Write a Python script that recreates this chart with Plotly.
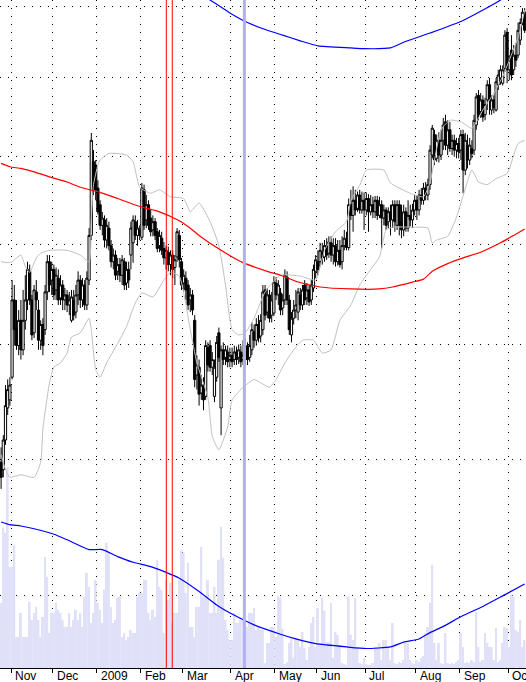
import math
import plotly.graph_objects as go

# ---------------- data (price bars, one per trading day) ----------------
opens = [
    5.98, 5.92, 6.16, 6.43, 6.50, 6.70, 7.43, 7.16, 6.99, 7.23,
    6.95, 7.23, 7.43, 7.72, 7.43, 7.11, 7.51, 7.33, 7.04, 7.19,
    7.14, 7.51, 7.82, 7.63, 7.74, 7.53, 7.65, 7.45, 7.58, 7.43,
    7.48, 7.38, 7.23, 7.43, 7.31, 7.48, 7.63, 7.43, 7.58, 7.38,
    7.63, 8.10, 8.94, 8.90, 8.63, 8.44, 8.21, 8.27, 8.05, 8.18,
    7.99, 7.82, 7.89, 7.72, 7.79, 7.68, 7.82, 7.60, 7.74, 7.89,
    8.02, 8.25, 8.10, 8.16, 8.08, 8.61, 8.27, 8.44, 8.29, 8.16,
    8.25, 8.14, 7.99, 8.07, 7.96, 7.86, 7.92, 7.79, 7.89, 7.76,
    7.87, 8.10, 7.82, 7.60, 7.65, 7.58, 7.43, 7.48, 7.23, 6.72,
    6.79, 6.56, 6.63, 6.53, 6.97, 6.99, 6.79, 6.53, 6.70, 7.11,
    6.43, 6.95, 6.88, 6.93, 6.86, 6.90, 6.86, 6.93, 6.88, 6.93,
    6.86, 6.86, 6.97, 6.88, 6.95, 7.12, 7.04, 7.19, 7.08, 7.14,
    7.53, 7.31, 7.48, 7.28, 7.30, 7.60, 7.48, 7.50, 7.35, 7.43,
    7.66, 7.43, 7.09, 7.25, 7.33, 7.31, 7.48, 7.38, 7.58, 7.45,
    7.53, 7.43, 7.55, 7.72, 7.82, 7.82, 7.92, 7.87, 7.99, 7.91,
    8.02, 7.89, 7.99, 7.82, 7.94, 7.82, 7.99, 8.05, 7.97, 8.44,
    8.32, 8.49, 8.40, 8.55, 8.38, 8.49, 8.38, 8.51, 8.36, 8.44,
    8.36, 8.49, 8.32, 8.44, 8.29, 8.38, 8.25, 8.36, 8.27, 8.44,
    8.21, 8.44, 8.25, 8.16, 8.36, 8.18, 8.32, 8.27, 8.38, 8.49,
    8.38, 8.55, 8.49, 8.63, 8.55, 8.67, 9.02, 9.27, 8.98, 9.20,
    9.02, 9.20, 9.43, 9.14, 9.33, 9.10, 9.20, 9.08, 9.16, 9.08,
    9.27, 8.84, 9.14, 8.96, 9.10, 9.08, 9.39, 9.77, 9.56, 9.71,
    9.52, 9.71, 9.91, 9.58, 9.71, 9.58, 9.91, 10.00, 9.93, 10.13,
    10.63, 10.11, 10.38, 10.11, 10.31, 10.31, 10.52, 10.77, 10.92,
]
highs = [
    6.10, 6.20, 6.63, 6.68, 6.70, 7.63, 7.58, 7.43, 7.33, 7.43,
    7.53, 7.68, 7.82, 7.79, 7.48, 7.58, 7.63, 7.43, 7.23, 7.25,
    7.58, 7.89, 7.89, 7.82, 7.79, 7.76, 7.74, 7.68, 7.63, 7.55,
    7.53, 7.51, 7.53, 7.53, 7.58, 7.72, 7.68, 7.65, 7.63, 7.72,
    8.18, 9.29, 9.08, 8.96, 8.72, 8.49, 8.36, 8.32, 8.29, 8.25,
    8.05, 7.96, 7.94, 7.86, 7.86, 7.89, 7.86, 7.82, 7.82, 8.25,
    8.32, 8.32, 8.27, 8.21, 8.69, 8.67, 8.55, 8.49, 8.38, 8.32,
    8.29, 8.18, 8.16, 8.14, 8.03, 7.99, 7.98, 7.94, 7.94, 7.89,
    8.18, 8.16, 7.86, 7.74, 7.72, 7.63, 7.55, 7.53, 7.28, 6.90,
    6.86, 6.72, 6.70, 7.04, 7.02, 7.04, 6.93, 6.86, 7.08, 7.16,
    6.99, 7.02, 6.99, 6.99, 6.97, 6.97, 6.99, 6.98, 7.00, 6.99,
    7.04, 7.06, 7.02, 7.09, 7.21, 7.19, 7.25, 7.28, 7.29, 7.58,
    7.58, 7.55, 7.53, 7.51, 7.67, 7.66, 7.63, 7.55, 7.49, 7.74,
    7.72, 7.48, 7.31, 7.43, 7.53, 7.55, 7.55, 7.58, 7.63, 7.60,
    7.58, 7.63, 7.79, 7.89, 7.94, 8.02, 8.02, 8.05, 8.07, 8.09,
    8.09, 8.07, 8.07, 8.05, 8.05, 8.09, 8.16, 8.14, 8.51, 8.61,
    8.65, 8.61, 8.59, 8.61, 8.59, 8.58, 8.58, 8.56, 8.55, 8.53,
    8.54, 8.54, 8.53, 8.49, 8.44, 8.41, 8.41, 8.44, 8.49, 8.49,
    8.49, 8.49, 8.44, 8.44, 8.41, 8.49, 8.44, 8.45, 8.55, 8.55,
    8.61, 8.63, 8.69, 8.70, 8.74, 9.14, 9.39, 9.33, 9.27, 9.30,
    9.33, 9.48, 9.52, 9.45, 9.43, 9.27, 9.27, 9.23, 9.23, 9.33,
    9.33, 9.29, 9.27, 9.23, 9.20, 9.52, 9.80, 9.84, 9.80, 9.77,
    9.74, 9.97, 10.00, 9.77, 9.77, 10.00, 10.11, 10.17, 10.17, 10.66,
    10.69, 10.31, 10.59, 10.45, 10.48, 10.77, 10.83, 10.98, 10.98,
]
lows = [
    5.77, 5.86, 6.12, 6.37, 6.45, 6.68, 6.99, 6.95, 6.90, 6.86,
    6.90, 7.14, 7.33, 7.38, 7.04, 7.06, 7.33, 6.95, 6.95, 6.90,
    7.09, 7.43, 7.51, 7.48, 7.43, 7.43, 7.38, 7.38, 7.33, 7.33,
    7.31, 7.28, 7.21, 7.23, 7.25, 7.38, 7.35, 7.36, 7.33, 7.33,
    7.58, 8.05, 8.55, 8.49, 8.33, 8.16, 8.10, 7.97, 7.96, 7.94,
    7.76, 7.74, 7.63, 7.63, 7.61, 7.58, 7.53, 7.53, 7.55, 7.74,
    7.81, 8.05, 7.99, 8.05, 8.05, 8.16, 8.18, 8.16, 8.09, 8.09,
    8.05, 7.92, 7.92, 7.89, 7.79, 7.74, 7.72, 7.68, 7.65, 7.58,
    7.82, 7.76, 7.53, 7.51, 7.43, 7.33, 7.31, 7.28, 6.61, 6.59,
    6.45, 6.50, 6.41, 6.50, 6.75, 6.75, 6.72, 6.48, 6.66, 6.84,
    6.20, 6.81, 6.81, 6.79, 6.79, 6.79, 6.81, 6.81, 6.82, 6.79,
    6.81, 6.81, 6.81, 6.84, 6.90, 6.97, 6.99, 7.02, 7.02, 7.09,
    7.23, 7.25, 7.21, 7.21, 7.27, 7.43, 7.38, 7.28, 7.28, 7.38,
    7.38, 7.09, 7.02, 7.19, 7.25, 7.23, 7.33, 7.33, 7.38, 7.38,
    7.37, 7.38, 7.51, 7.65, 7.68, 7.77, 7.79, 7.82, 7.84, 7.86,
    7.82, 7.79, 7.77, 7.78, 7.76, 7.74, 7.94, 7.94, 7.94, 8.27,
    8.14, 8.32, 8.36, 8.34, 8.34, 8.16, 8.32, 8.14, 8.32, 8.29,
    8.29, 8.27, 8.29, 7.96, 8.21, 8.16, 8.18, 8.10, 8.18, 8.14,
    8.16, 8.10, 8.07, 8.09, 8.14, 8.14, 8.20, 8.18, 8.32, 8.27,
    8.32, 8.44, 8.44, 8.49, 8.49, 8.61, 8.98, 8.90, 8.94, 8.93,
    8.96, 9.08, 9.08, 9.02, 9.06, 9.02, 9.00, 8.98, 8.98, 8.96,
    8.57, 8.78, 8.86, 8.90, 8.98, 9.02, 9.33, 9.45, 9.48, 9.43,
    9.45, 9.58, 9.52, 9.52, 9.54, 9.56, 9.84, 9.91, 9.90, 10.08,
    9.93, 9.97, 9.97, 10.04, 10.15, 10.27, 10.45, 10.73, 10.62,
]
closes = [
    5.86, 6.16, 6.45, 6.59, 6.63, 7.43, 7.14, 6.99, 7.23, 6.95,
    7.23, 7.43, 7.74, 7.43, 7.09, 7.53, 7.43, 7.04, 7.19, 6.99,
    7.51, 7.82, 7.58, 7.74, 7.48, 7.68, 7.43, 7.58, 7.43, 7.48,
    7.38, 7.43, 7.46, 7.28, 7.48, 7.63, 7.43, 7.58, 7.38, 7.65,
    8.10, 9.20, 8.61, 8.61, 8.36, 8.21, 8.29, 8.05, 8.21, 7.99,
    7.82, 7.89, 7.68, 7.79, 7.68, 7.84, 7.58, 7.74, 7.63, 8.18,
    8.27, 8.10, 8.18, 8.10, 8.63, 8.21, 8.44, 8.21, 8.14, 8.25,
    8.10, 7.96, 8.10, 7.94, 7.86, 7.94, 7.79, 7.89, 7.74, 7.84,
    8.14, 7.84, 7.58, 7.68, 7.53, 7.38, 7.48, 7.33, 6.68, 6.81,
    6.55, 6.63, 6.50, 6.99, 6.81, 6.79, 6.86, 6.79, 7.02, 6.88,
    6.95, 6.86, 6.95, 6.84, 6.90, 6.84, 6.93, 6.86, 6.95, 6.84,
    6.90, 6.99, 6.86, 6.99, 7.14, 7.04, 7.19, 7.06, 7.23, 7.51,
    7.28, 7.48, 7.25, 7.43, 7.61, 7.48, 7.58, 7.33, 7.43, 7.68,
    7.43, 7.14, 7.25, 7.33, 7.38, 7.51, 7.38, 7.53, 7.43, 7.53,
    7.41, 7.58, 7.74, 7.84, 7.74, 7.94, 7.86, 7.99, 7.89, 8.03,
    7.89, 7.99, 7.82, 7.94, 7.79, 7.99, 8.07, 7.97, 8.44, 8.32,
    8.49, 8.38, 8.55, 8.38, 8.49, 8.38, 8.51, 8.36, 8.44, 8.36,
    8.49, 8.32, 8.44, 8.29, 8.38, 8.21, 8.36, 8.27, 8.44, 8.25,
    8.44, 8.21, 8.16, 8.36, 8.18, 8.32, 8.27, 8.38, 8.49, 8.38,
    8.55, 8.49, 8.63, 8.55, 8.67, 9.08, 9.35, 8.96, 9.20, 9.02,
    9.20, 9.39, 9.14, 9.33, 9.10, 9.20, 9.08, 9.16, 9.06, 9.27,
    8.84, 9.20, 8.96, 9.14, 9.04, 9.45, 9.75, 9.52, 9.71, 9.49,
    9.65, 9.91, 9.71, 9.71, 9.61, 9.95, 10.04, 10.11, 10.11, 10.59,
    10.11, 10.24, 10.04, 10.31, 10.24, 10.66, 10.77, 10.92, 10.66,
]
# volume, thousands of shares
volumes = [
    195, 420, 405, 600, 303, 303, 369, 93, 93, 165,
    93, 93, 93, 198, 144, 165, 183, 144, 93, 153,
    333, 273, 105, 165, 165, 195, 174, 165, 144, 123,
    123, 165, 123, 144, 174, 144, 165, 123, 213, 285,
    243, 135, 165, 264, 195, 174, 135, 234, 375, 345,
    183, 135, 144, 210, 213, 93, 105, 84, 93, 114,
    105, 105, 213, 225, 225, 264, 264, 165, 144, 174,
    153, 324, 243, 234, 105, 264, 204, 255, 135, 165,
    165, 264, 354, 345, 225, 315, 123, 123, 93, 183,
    183, 363, 213, 213, 264, 165, 165, 243, 165, 324,
    423, 330, 144, 114, 84, 84, 165, 135, 135, 144,
    144, 144, 123, 165, 165, 180, 114, 123, 114, 114,
    15, 75, 75, 123, 123, 93, 216, 210, 117, 12,
    18, 75, 90, 30, 90, 84, 63, 108, 60, 24,
    63, 135, 153, 63, 180, 75, 210, 171, 78, 78,
    195, 30, 108, 99, 63, 15, 12, 9, 213, 99,
    84, 210, 63, 15, 12, 30, 12, 9, 9, 15,
    63, 63, 75, 24, 84, 84, 63, 24, 135, 15,
    12, 18, 15, 24, 75, 75, 24, 15, 12, 24,
    18, 30, 36, 105, 123, 195, 309, 75, 24, 75,
    15, 12, 105, 15, 12, 15, 12, 18, 24, 105,
    63, 15, 18, 15, 24, 18, 168, 63, 18, 24,
    105, 75, 63, 63, 24, 120, 18, 24, 75, 123,
    120, 63, 219, 213, 114, 108, 144, 63, 84,
]

# month labels and the bar-boundary where each month starts
month_labels = ["Nov", "Dec", "2009", "Feb", "Mar", "Apr", "May", "Jun",
                "Jul", "Aug", "Sep", "Oct"]
month_starts = [4.5, 23.5, 43.5, 63.5, 82.5, 104.5, 124.5, 143.5,
                165.5, 188.5, 208.5, 230.5]

# long moving average (red)
ma_idx = [0, 4, 9, 15, 22, 30, 36, 45, 53, 63, 72, 81, 87, 90, 100, 110,
          121, 127, 135, 145, 159, 172, 178, 187, 192, 196, 203, 210, 218,
          227, 233, 238]
ma_val = [8.92, 8.88, 8.86, 8.82, 8.76, 8.70, 8.64, 8.58, 8.51, 8.42, 8.36,
          8.26, 8.16, 8.10, 7.94, 7.81, 7.72, 7.68, 7.61, 7.56, 7.54, 7.54,
          7.56, 7.61, 7.64, 7.72, 7.80, 7.86, 7.92, 8.02, 8.10, 8.17]

# envelope (blue)
env_up_idx = [88, 95, 104, 112, 121, 128, 136, 144, 159, 165, 177, 183,
              195, 210, 227, 238]
env_up_val = [11.25, 11.10, 10.91, 10.77, 10.66, 10.59, 10.51, 10.44, 10.41,
              10.40, 10.41, 10.49, 10.62, 10.80, 11.10, 11.40]
env_lo_idx = [0, 4, 9, 15, 24, 30, 40, 46, 53, 60, 68, 75, 81, 90, 98, 105,
              115, 127, 134, 143, 157, 166, 177, 183, 190, 195, 201, 210,
              219, 228, 238]
env_lo_val = [5.52, 5.50, 5.49, 5.47, 5.43, 5.39, 5.32, 5.32, 5.27, 5.23,
              5.20, 5.16, 5.12, 5.03, 4.94, 4.88, 4.81, 4.75, 4.72, 4.69,
              4.67, 4.66, 4.67, 4.70, 4.72, 4.76, 4.80, 4.87, 4.93, 5.00, 5.08]

# Bollinger bands (grey)
bb_up_idx = [0, 3, 5, 9, 11, 13, 16, 18, 22, 30, 36, 40, 41, 42, 44, 45, 49,
             57, 60, 63, 68, 72, 77, 83, 86, 90, 95, 99, 102, 105, 108, 111,
             115, 120, 127, 136, 143, 145, 147, 152, 157, 159, 163, 166, 174,
             177, 186, 192, 195, 200, 204, 209, 214, 219, 224, 228, 231, 235,
             237, 238]
bb_up_val = [7.82, 7.81, 7.82, 7.89, 7.77, 7.71, 7.86, 7.91, 7.94, 7.94,
             7.89, 7.82, 8.27, 8.67, 8.90, 8.96, 9.04, 9.02, 8.94, 8.64,
             8.57, 8.61, 8.53, 8.51, 8.36, 8.46, 8.25, 7.99, 7.58, 7.14,
             7.09, 7.11, 7.25, 7.51, 7.68, 7.67, 7.63, 7.76, 7.94, 8.14,
             8.25, 8.49, 8.66, 8.84, 8.84, 8.69, 8.57, 8.53, 8.70, 9.33,
             9.45, 9.43, 9.35, 9.58, 9.80, 10.02, 10.24, 10.56, 10.80, 10.95]
bb_lo_idx = [0, 2, 4, 9, 15, 18, 19, 22, 24, 27, 30, 32, 36, 40, 41, 43, 45,
             48, 53, 57, 61, 64, 69, 74, 77, 81, 86, 89, 94, 96, 99, 103, 105,
             110, 115, 118, 122, 125, 129, 133, 137, 142, 146, 150, 154, 159,
             163, 168, 172, 175, 178, 187, 194, 196, 198, 203, 207, 210, 214,
             217, 221, 225, 230, 235, 238]
bb_lo_val = [6.04, 5.92, 5.86, 5.88, 5.86, 5.98, 6.25, 6.65, 6.79, 6.83,
             6.92, 7.07, 7.11, 7.25, 7.14, 6.77, 6.70, 6.83, 7.01, 7.17,
             7.40, 7.50, 7.46, 7.63, 7.71, 7.67, 7.14, 6.83, 6.52, 6.19,
             6.08, 6.27, 6.50, 6.61, 6.68, 6.65, 6.61, 6.68, 6.83, 6.95,
             7.04, 7.04, 6.92, 6.95, 7.23, 7.38, 7.58, 7.74, 7.87, 8.16,
             8.19, 8.19, 8.18, 8.02, 8.05, 8.09, 8.30, 8.54, 8.84, 8.70,
             8.67, 8.74, 8.80, 9.16, 9.20]

# event markers (bar positions)
red_events = [75.1, 77.8]
blue_events = [110.6]

PRICE_MIN, PRICE_MAX = 4.54, 11.10
VOL_MAX = 2000
price_grid = [5, 6, 7, 8, 9, 10, 11]

# ---------------- figure ----------------
n = min(len(opens), len(highs), len(lows), len(closes))
bars = list(range(n))
fig = go.Figure()

fig.add_trace(go.Bar(
    x=list(range(len(volumes))), y=volumes, yaxis="y",
    marker=dict(color="#e0e0f8", line=dict(width=0)),
    hoverinfo="skip", showlegend=False))

fig.add_trace(go.Candlestick(
    x=bars, open=opens[:n], high=highs[:n], low=lows[:n], close=closes[:n],
    yaxis="y2", whiskerwidth=0,
    increasing=dict(line=dict(color="black", width=1), fillcolor="white"),
    decreasing=dict(line=dict(color="black", width=1), fillcolor="black"),
    hoverinfo="skip", showlegend=False))

for xs, ys, col, w in [
    (bb_up_idx, bb_up_val, "#c0c0c0", 1),
    (bb_lo_idx, bb_lo_val, "#c0c0c0", 1),
    (ma_idx, ma_val, "#ff0000", 1.2),
    (env_up_idx, env_up_val, "#0000ff", 1.2),
    (env_lo_idx, env_lo_val, "#0000ff", 1.2),
]:
    fig.add_trace(go.Scatter(
        x=xs, y=ys, yaxis="y2", mode="lines",
        line=dict(color=col, width=w, shape="spline", smoothing=0.5),
        hoverinfo="skip", showlegend=False))

shapes = []
for ev in red_events:
    shapes.append(dict(type="line", xref="x", yref="paper", x0=ev, x1=ev,
                       y0=0, y1=1, layer="above",
                       line=dict(color="#ff0000", width=1)))
for ev in blue_events:
    shapes.append(dict(type="line", xref="x", yref="paper", x0=ev, x1=ev,
                       y0=0, y1=1, layer="above",
                       line=dict(color="#b0b0f2", width=3)))

annotations = []
for lab, pos in zip(month_labels, month_starts):
    annotations.append(dict(
        text=lab, x=pos, xref="x", y=0, yref="paper",
        xanchor="left", yanchor="top", xshift=2, yshift=1,
        showarrow=False,
        font=dict(family="Liberation Sans, Arial, sans-serif", size=12,
                  color="black")))

fig.update_layout(
    width=526, height=682,
    margin=dict(l=0, r=0, t=0, b=14, pad=0),
    paper_bgcolor="white", plot_bgcolor="white",
    showlegend=False, bargap=0.15, boxgap=0.0, boxgroupgap=0,
    shapes=shapes, annotations=annotations,
    xaxis=dict(
        range=[-0.5, 238.6], tickvals=month_starts, showticklabels=False,
        ticks="outside", ticklen=4, tickwidth=1, tickcolor="black",
        showline=True, linecolor="black", linewidth=1,
        showgrid=True, gridcolor="black", gridwidth=1, griddash="1px,7px",
        zeroline=False, rangeslider=dict(visible=False), fixedrange=True),
    yaxis=dict(range=[0, VOL_MAX], showgrid=False, showticklabels=False,
               zeroline=False, showline=False, ticks="", fixedrange=True),
    yaxis2=dict(type="log", overlaying="y", side="left",
                range=[math.log10(PRICE_MIN), math.log10(PRICE_MAX)],
                tickvals=price_grid, showticklabels=False, ticks="",
                showgrid=True, gridcolor="black", gridwidth=1,
                griddash="1px,7px", zeroline=False, showline=False,
                fixedrange=True),
)

fig.write_html("out.html", config={"displayModeBar": False},
               post_script="document.body.style.margin='0';")
